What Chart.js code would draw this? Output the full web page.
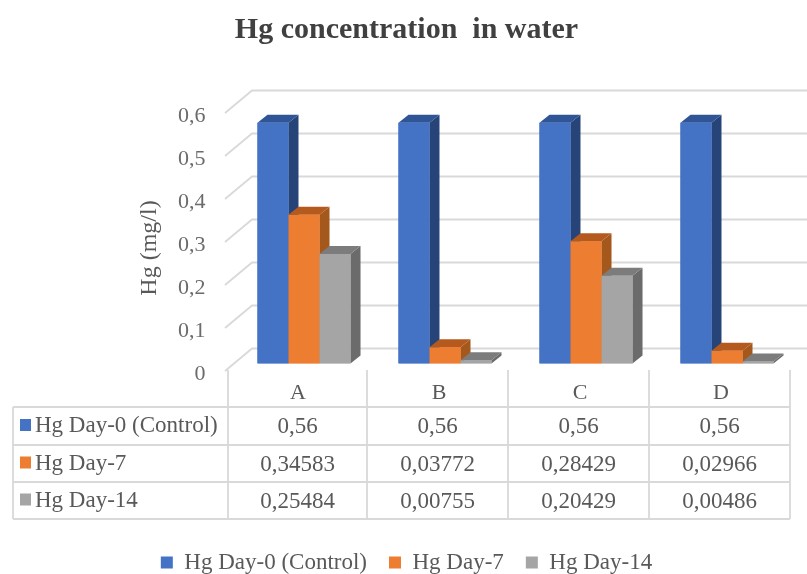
<!DOCTYPE html>
<html>
<head>
<meta charset="utf-8">
<title>Hg concentration in water</title>
<script src="https://cdn.jsdelivr.net/npm/chart.js@4"></script>
<style>
    html, body { margin: 0; padding: 0; background: #fff; }
    canvas { display: block; filter: blur(0.5px); }
</style>
</head>
<body>
<canvas id="hgChart" width="807" height="574"></canvas>
<script>
const categories = ['A', 'B', 'C', 'D'];
const seriesNames = ['Hg Day-0 (Control)', 'Hg Day-7', 'Hg Day-14'];
const day0Values = [0.56, 0.56, 0.56, 0.56];
const day7Values = [0.34583, 0.03772, 0.28429, 0.02966];
const day14Values = [0.25484, 0.00755, 0.20429, 0.00486];
const yTickLabels = ['0', '0,1', '0,2', '0,3', '0,4', '0,5', '0,6'];

const FONT = '"Liberation Serif", "Times New Roman", serif';
const TEXT_COLOR = '#595959';
const GRID_COLOR = '#d9d9d9';

// Colours of each column: front, side and top
const faceColors = [
    { front: '#4472c4', side: '#264478', top: '#2f5597' },
    { front: '#ed7d31', side: '#a5581c', top: '#b55a1e' },
    { front: '#a5a5a5', side: '#6b6b6b', top: '#7c7c7c' }
];
const allSeries = [day0Values, day7Values, day14Values];

// Depth of the columns and of the back wall
const BAR_DX = 10, BAR_DY = -8;
const WALL_DY = -15;

const wallPlugin = {
    id: 'wall',
    // Back wall and left wall gridlines
    beforeDatasetsDraw(chart) {
        const { ctx, scales: { y } } = chart;
        ctx.save();
        ctx.strokeStyle = GRID_COLOR;
        ctx.lineWidth = 1.8;
        yTickLabels.forEach((_, i) => {
            const py = y.getPixelForValue(i / 10);
            ctx.beginPath();
            ctx.moveTo(225, py + 7.5);
            ctx.lineTo(225 + 27, py + WALL_DY);
            ctx.lineTo(807, py + WALL_DY);
            ctx.stroke();
        });
        ctx.restore();
    },
    // The library draws the last dataset first, so redo the columns left to right
    // with their side and top faces to get the overlaps right
    afterDatasetsDraw(chart) {
        const { ctx } = chart;
        ctx.save();
        seriesNames.forEach((_, i) => {
            const colors = faceColors[i];
            chart.getDatasetMeta(i).data.forEach(bar => {
                const left = bar.x - bar.width / 2, right = bar.x + bar.width / 2;
                ctx.fillStyle = colors.side;
                ctx.beginPath();
                ctx.moveTo(right, bar.y);
                ctx.lineTo(right + BAR_DX, bar.y + BAR_DY);
                ctx.lineTo(right + BAR_DX, bar.base + BAR_DY);
                ctx.lineTo(right, bar.base);
                ctx.closePath();
                ctx.fill();
                ctx.fillStyle = colors.top;
                ctx.beginPath();
                ctx.moveTo(left, bar.y);
                ctx.lineTo(left + BAR_DX, bar.y + BAR_DY);
                ctx.lineTo(right + BAR_DX, bar.y + BAR_DY);
                ctx.lineTo(right, bar.y);
                ctx.closePath();
                ctx.fill();
                bar.draw(ctx);
            });
        });
        ctx.restore();
    }
};

// Data table under the plot, and the y axis title
const tablePlugin = {
    id: 'dataTable',
    afterDraw(chart) {
        const { ctx } = chart;
        const colX = [228, 367, 508, 649, 790];
        const rowY = [407, 445, 482, 519];
        const tableLeft = 13;

        ctx.save();
        ctx.strokeStyle = GRID_COLOR;
        ctx.lineWidth = 1.8;
        rowY.forEach(y => {
            ctx.beginPath();
            ctx.moveTo(tableLeft, y);
            ctx.lineTo(colX[colX.length - 1], y);
            ctx.stroke();
        });
        ctx.beginPath();
        ctx.moveTo(tableLeft, rowY[0]);
        ctx.lineTo(tableLeft, rowY[3]);
        ctx.stroke();
        colX.forEach(x => {
            ctx.beginPath();
            ctx.moveTo(x, 370);
            ctx.lineTo(x, rowY[3]);
            ctx.stroke();
        });

        ctx.font = '23px ' + FONT;
        ctx.textBaseline = 'middle';
        seriesNames.forEach((name, r) => {
            const cy = (rowY[r] + rowY[r + 1]) / 2;
            ctx.fillStyle = faceColors[r].front;
            ctx.fillRect(20, cy - 7, 11, 12);
            ctx.fillStyle = TEXT_COLOR;
            ctx.textAlign = 'left';
            ctx.fillText(name, 35, cy);
            ctx.textAlign = 'center';
            allSeries[r].forEach((v, c) => {
                ctx.fillText(String(v).replace('.', ','), (colX[c] + colX[c + 1]) / 2, cy + 1);
            });
        });

        ctx.translate(150, 248);
        ctx.rotate(-Math.PI / 2);
        ctx.textAlign = 'center';
        ctx.font = '24px ' + FONT;
        ctx.fillText('Hg (mg/l)', 0, 0);
        ctx.restore();
    }
};

new Chart(document.getElementById('hgChart').getContext('2d'), {
    type: 'bar',
    data: {
        labels: categories,
        datasets: seriesNames.map((name, i) => ({
            label: name,
            data: allSeries[i],
            backgroundColor: faceColors[i].front
        }))
    },
    plugins: [wallPlugin, tablePlugin],
    options: {
        responsive: false,
        animation: false,
        layout: { padding: { left: 15.5, right: 9.5, top: 0, bottom: -10 } },
        datasets: { bar: { categoryPercentage: 0.66, barPercentage: 1 } },
        plugins: {
            tooltip: { enabled: false },
            title: {
                display: true,
                text: 'Hg concentration  in water',
                color: '#404040',
                font: { family: FONT, size: 30, weight: 'bold', lineHeight: 1.2 },
                padding: { top: 12, bottom: 57.5 }
            },
            legend: {
                position: 'bottom',
                labels: {
                    color: TEXT_COLOR,
                    font: { family: FONT, size: 23 },
                    boxWidth: 12,
                    boxHeight: 12,
                    padding: 22
                }
            }
        },
        scales: {
            x: {
                grid: { display: false },
                border: { display: false },
                ticks: {
                    color: TEXT_COLOR,
                    font: { family: FONT, size: 22 },
                    padding: 9,
                    labelOffset: -6,
                    maxRotation: 0
                },
                afterFit(scale) { scale.height = 165.5; }
            },
            y: {
                min: 0,
                max: 0.6,
                grid: { display: false },
                border: { display: false },
                ticks: {
                    stepSize: 0.1,
                    color: '#6b6b6b',
                    font: { family: FONT, size: 22 },
                    padding: 20,
                    labelOffset: 10.5,
                    callback: (value, index) => yTickLabels[index]
                },
                afterFit(scale) { scale.width = 218; }
            }
        }
    }
});
</script>
</body>
</html>
